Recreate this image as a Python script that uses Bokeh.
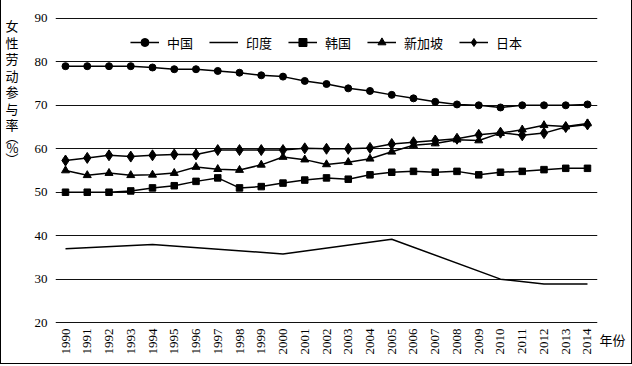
import math
from bokeh.plotting import figure
from bokeh.models import (Range1d, FixedTicker, Legend, LegendItem, LinearAxis)
from bokeh.core.properties import value
from bokeh.embed import file_html
from bokeh.resources import INLINE

# ---------------- data ----------------
years = list(range(1990, 2015))
china = [79.0, 79.0, 79.0, 79.0, 78.7, 78.3, 78.3, 77.9, 77.5, 76.9, 76.6, 75.6,
         74.9, 73.9, 73.3, 72.4, 71.6, 70.8, 70.2, 70.0, 69.5, 70.0, 70.0, 70.0, 70.2]
korea = [50.0, 50.0, 50.0, 50.3, 51.0, 51.5, 52.5, 53.3, 51.0, 51.3, 52.1, 52.8,
         53.3, 53.0, 54.0, 54.6, 54.8, 54.6, 54.8, 54.0, 54.6, 54.8, 55.2, 55.5, 55.5]
singapore = [55.0, 53.9, 54.4, 53.9, 54.0, 54.4, 55.8, 55.3, 55.1, 56.3, 58.1, 57.5,
             56.4, 56.9, 57.7, 59.3, 60.8, 61.2, 62.1, 61.9, 63.6, 64.4, 65.4, 65.1, 65.8]
japan = [57.3, 57.9, 58.5, 58.2, 58.5, 58.7, 58.7, 59.7, 59.7, 59.7, 59.7, 60.1,
         60.0, 60.0, 60.2, 61.1, 61.5, 61.9, 62.3, 63.2, 63.7, 63.1, 63.6, 65.0, 65.6]
india_years = [1990, 1994, 2000, 2005, 2010, 2012, 2014]
india = [37.0, 38.0, 35.8, 39.2, 30.0, 28.9, 28.9]

y_ticks = [20, 30, 40, 50, 60, 70, 80, 90]
series_names = ["中国", "印度", "韩国", "新加坡", "日本"]
y_title_chars = ["女", "性", "劳", "动", "参", "与", "率", "︵", "%", "︶"]
x_unit_label = "年份"

SERIF = "Liberation Serif"
CJK = "Noto Sans CJK SC"

# ---------------- figure ----------------
X0, X1 = 1989.54, 2014.46
Y0, Y1 = 19.8, 90.2
FW, FH = 542, 306
LEFT, TOP = 54, 17

p = figure(frame_width=FW, frame_height=FH,
           x_range=Range1d(X0, X1), y_range=Range1d(Y0, Y1),
           output_backend="svg", toolbar_location=None,
           min_border_left=LEFT, min_border_right=34,
           min_border_top=TOP, min_border_bottom=40)
p.outline_line_color = None
p.background_fill_color = "white"
p.border_fill_color = "white"
p.styles = {"border-left": "1px solid #000", "border-right": "1px solid #000",
            "border-bottom": "1px solid #000"}

p.xgrid.grid_line_color = None
p.ygrid.grid_line_color = "#111111"
p.ygrid.grid_line_width = 1.2

p.yaxis.ticker = FixedTicker(ticks=y_ticks)
p.xaxis.ticker = FixedTicker(ticks=years)

def style_axis(ax, font, size):
    ax.axis_line_color = None
    ax.major_tick_line_color = None
    ax.minor_tick_line_color = None
    ax.major_tick_out = 0
    ax.major_tick_in = 0
    ax.major_label_text_font = font
    ax.major_label_text_font_size = size
    ax.major_label_text_color = "black"

style_axis(p.xaxis[0], SERIF, "13px")
style_axis(p.yaxis[0], SERIF, "13px")
p.yaxis.major_label_standoff = 8
p.xaxis.major_label_standoff = 5
p.xaxis.major_label_orientation = math.pi / 2

lw = 1.5
r_cn_l = p.line(years, china, line_color="black", line_width=lw)
r_cn_m = p.scatter(years, china, marker="circle", size=7, color="black")
r_in_l = p.line(india_years, india, line_color="black", line_width=lw)
r_kr_l = p.line(years, korea, line_color="black", line_width=lw)
r_kr_m = p.scatter(years, korea, marker="square", size=6.5, color="black")
r_sg_l = p.line(years, singapore, line_color="black", line_width=lw)
r_sg_m = p.scatter(years, singapore, marker="triangle", size=8, color="black")
r_jp_l = p.line(years, japan, line_color="black", line_width=lw)
r_jp_m = p.scatter(years, japan, marker="diamond", size=11, color="black")

items = [
    LegendItem(label=series_names[0], renderers=[r_cn_l, r_cn_m]),
    LegendItem(label=series_names[1], renderers=[r_in_l]),
    LegendItem(label=series_names[2], renderers=[r_kr_l, r_kr_m]),
    LegendItem(label=series_names[3], renderers=[r_sg_l, r_sg_m]),
    LegendItem(label=series_names[4], renderers=[r_jp_l, r_jp_m]),
]
legend = Legend(items=items, orientation="horizontal", location="top",
                margin=15, padding=0, spacing=16, glyph_width=29, glyph_height=20,
                label_standoff=8, label_text_font=CJK, label_text_font_size="13px",
                label_text_color="black", border_line_color=None,
                background_fill_alpha=0)
p.add_layout(legend, "center")

# canvas pixel -> data value
px_per_x = FW / (X1 - X0)
px_per_y = FH / (Y1 - Y0)
def xd(cx):
    return X0 + (cx - LEFT) / px_per_x
def yd(cy):
    return round(Y1 - (cy - TOP) / px_per_y, 3)

# vertical, upright y-axis title: an extra left axis whose tick labels are the characters
title_y = [25, 41.5, 58, 74.5, 91, 107.5, 124, 136, 147, 158]
title_ticks = [yd(v) for v in title_y]
title_axis = LinearAxis(ticker=FixedTicker(ticks=title_ticks),
                        major_label_overrides={t: ch for t, ch in zip(title_ticks, y_title_chars)})
style_axis(title_axis, CJK, "13px")
title_axis.major_label_standoff = 13
p.add_layout(title_axis, "left")

# "年份" beside the last year label (overlay level so it is not clipped to the frame)
p.text(x=[xd(598)], y=[yd(339)], text=[x_unit_label],
       text_font=value(CJK), text_font_size=value("13px"), text_color="black",
       text_align="left", text_baseline="middle", level="overlay")

open("out.html", "w").write(file_html(p, INLINE))
